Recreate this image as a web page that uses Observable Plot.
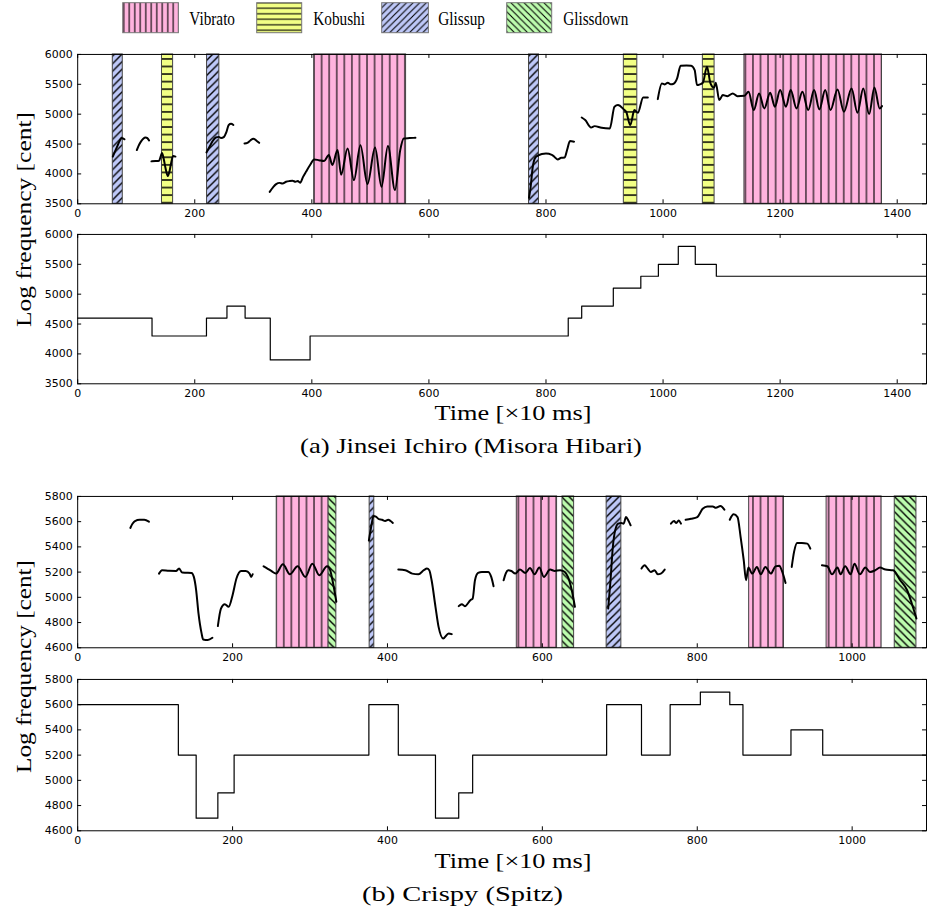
<!DOCTYPE html>
<html><head><meta charset="utf-8">
<script src="https://cdn.jsdelivr.net/npm/d3@7"></script>
<script src="https://cdn.jsdelivr.net/npm/@observablehq/plot@0.6"></script>
<style>
body{margin:0;background:#fff;}
#wrap{position:relative;width:928px;height:911px;overflow:hidden;background:#fff;}
</style></head><body><div id="wrap"></div>
<script>
// ---------- data ----------
const techniques = ["Vibrato", "Kobushi", "Glissup", "Glissdown"];
const techniqueColors = ["#ffb3de", "#f2ff85", "#bec8f8", "#bdfcae"];
const techniqueHatch = ["v", "h", "/", "\\"];

const jinseiXDomain = [0, 1450];
const jinseiYDomain = [3500, 6000];
const jinseiXTicks = [0, 200, 400, 600, 800, 1000, 1200, 1400];
const jinseiYTicks = [3500, 4000, 4500, 5000, 5500, 6000];

const crispyXDomain = [0, 1096];
const crispyYDomain = [4600, 5800];
const crispyXTicks = [0, 200, 400, 600, 800, 1000];
const crispyYTicks = [4600, 4800, 5000, 5200, 5400, 5600, 5800];

const jinseiRegions = [["Glissup",60,77],["Kobushi",144,163],["Glissup",221,242],["Vibrato",404,561],
  ["Glissup",771,788],["Kobushi",933,956],["Kobushi",1068,1088],["Vibrato",1139,1374]];

const jinseiF0 = [
  [[60,4290],[64,4380],[68,4470],[72,4560],[75,4600],[78,4590],[80,4580]],
  [[101,4400],[104,4470],[108,4540],[112,4590],[116,4610],[119,4600],[122,4560]],
  [[126,4210],[133,4215],[139,4220],[142,4300],[144,4350],[147,4250],[150,4100],[154,3965],[157,4050],[160,4200],[163,4300],[167,4290]],
  [[220,4360],[225,4450],[230,4540],[236,4610],[241,4620],[245,4600],[250,4620],[254,4700],[258,4820],[262,4840],[266,4820]],
  [[285,4510],[290,4520],[295,4560],[300,4590],[305,4560],[310,4520]],
  [[328,3700],[334,3780],[339,3830],[345,3850],[350,3840],[356,3868],[362,3880],[367,3885],[372,3870],[376,3880],[380,3852],[385,3950],[390,4036],[397,4150],[404,4242],
   [412,4230],[421,4215],[429,4315],[435,4150],[444,4400],[450,3985],[461,4426],[472,3896],[483,4482],[495,3830],[508,4443],[519,3785],[530,4466],[542,3729],[551,4398],[557,4594],[567,4600],[577,4605]],
  [[771,3600],[774,3800],[777,4090],[782,4276],[787,4310],[793,4335],[800,4340],[810,4320],[815,4280],[820,4240],[826,4270],[832,4275],[836,4400],[841,4550],[848,4540]],
  [[861,4945],[867,4901],[877,4778],[883,4800],[895,4772],[909,4761],[917,5124],[923,5152],[933,5079],[937,5040],[944,4817],[951,5068],[957,5024],[966,5280],[974,5280]],
  [[991,5252],[998,5514],[1003,5498],[1008,5526],[1013,5500],[1018,5510],[1024,5600],[1030,5810],[1040,5815],[1048,5810],[1054,5738],[1058,5487],[1063,5500],[1068,5526],[1075,5794],[1081,5514],[1087,5442],[1090,5526],[1096,5236],[1102,5319],[1110,5302],[1119,5347],[1127,5302],[1139,5308],
   [1146,5375],[1155,5068],[1164,5347],[1173,5096],[1183,5358],[1191,5124],[1200,5403],[1210,5124],[1218,5403],[1228,5096],[1238,5375],[1248,5068],[1258,5403],[1267,5079],[1277,5403],[1286,5068],[1298,5414],[1309,5040],[1322,5431],[1332,5024],[1342,5431],[1352,5001],[1361,5448],[1370,5096],[1374,5135]]
];

const jinseiNotes = [[0,4600],[127,4300],[220,4600],[255,4800],[286,4600],[329,3900],[397,4300],[838,4600],[861,4800],[915,5100],[962,5300],[992,5500],[1026,5800],[1055,5500],[1091,5300]];

const crispyRegions = [["Vibrato",257,324],["Glissdown",324,334],["Glissup",377,383],["Vibrato",567,619],["Glissdown",626,641],
  ["Glissup",683,702],["Vibrato",867,912],["Vibrato",967,1038],["Glissdown",1055,1083]];

const crispyF0 = [
  [[68,5550],[71,5585],[74,5605],[80,5615],[86,5615],[92,5600]],
  [[105,5188],[109,5215],[118,5210],[127,5209],[131,5228],[135,5196],[141,5195],[147,5193],[150,5162],[153,5056],[156,4872],[160,4714],[162,4666],[168,4661],[174,4679]],
  [[181,4772],[185,4911],[190,4946],[195,4925],[200,5017],[205,5149],[211,5209],[217,5209],[222,5188],[224,5162],[226,5183]],
  [[240,5246],[245,5228],[250,5209],[256,5188],[265,5262],[274,5183],[284,5246],[294,5162],[303,5267],[312,5175],[322,5246],[326,5215],[329,5135],[334,4965]],
  [[376,5450],[379,5560],[382,5645],[385,5640],[389,5620],[393,5615],[397,5605],[401,5615],[404,5605],[407,5590]],
  [[414,5220],[423,5215],[432,5188],[440,5183],[447,5215],[451,5228],[454,5215],[457,5135],[462,4925],[466,4766],[472,4674],[479,4714],[483,4708]],
  [[492,4930],[496,4946],[500,4930],[507,4977],[510,4990],[513,5135],[517,5193],[522,5201],[530,5201],[534,5162],[537,5088]],
  [[550,5135],[553,5193],[556,5215],[560,5209],[565,5188],[571,5220],[578,5193],[584,5233],[590,5183],[596,5236],[602,5162],[610,5220],[616,5209],[623,5215],[629,5201],[633,5162],[638,5056],[642,4925]],
  [[685,4911],[688,5135],[691,5399],[694,5531],[698,5584],[702,5589],[705,5584],[708,5636],[711,5610],[714,5571]],
  [[728,5228],[732,5254],[736,5228],[740,5201],[745,5215],[749,5183],[753,5188],[758,5220]],
  [[766,5584],[770,5605],[773,5589],[776,5610],[779,5584]],
  [[785,5615],[792,5623],[800,5636],[807,5702],[813,5721],[820,5721],[824,5710],[830,5724],[835,5695]],
  [[842,5615],[847,5658],[852,5636],[856,5478],[860,5294],[863,5135],[866,5236],[871,5188],[877,5240],[882,5183],[888,5240],[895,5188],[901,5245],[906,5250],[909,5215],[914,5114]],
  [[922,5241],[925,5360],[929,5431],[935,5431],[942,5426],[946,5386]],
  [[961,5254],[968,5246],[974,5183],[981,5236],[985,5183],[991,5246],[998,5183],[1003,5267],[1010,5183],[1017,5236],[1023,5201],[1030,5215],[1036,5236],[1043,5220],[1053,5215],[1062,5135],[1071,5056],[1077,4951],[1083,4832]]
];

const crispyNotes = [[0,5600],[130,5200],[153,4700],[181,4900],[202,5200],[376,5600],[414,5200],[462,4700],[492,4900],[510,5200],[683,5600],[728,5200],[765,5600],[804,5700],[842,5600],[859,5200],[921,5400],[962,5200]];

const xLabel = "Time [×10 ms]";
const yLabel = "Log frequency [cent]";
const captions = ["(a) Jinsei Ichiro (Misora Hibari)", "(b) Crispy (Spitz)"];

// ---------- overlay, patterns, legend ----------
const wrap = document.getElementById("wrap");
const overlay = d3.select(wrap).append("svg")
  .attr("width", 928).attr("height", 911)
  .style("position", "absolute").style("left", "0px").style("top", "0px").style("z-index", 5)
  .style("pointer-events", "none");
const defs = overlay.append("defs");

function addPattern(id, size, color, kind, lw) {
  const s = size;
  const p = defs.append("pattern").attr("id", id).attr("patternUnits", "userSpaceOnUse")
    .attr("width", s).attr("height", s);
  p.append("rect").attr("width", s).attr("height", s).attr("fill", color);
  let d;
  if (kind === "v") d = `M${s/2},0V${s}`;
  else if (kind === "h") d = `M0,${s/2}H${s}`;
  else if (kind === "/") d = `M${-s/2},${s/2}L${s/2},${-s/2}M0,${s}L${s},0M${s/2},${1.5*s}L${1.5*s},${s/2}`;
  else d = `M${-s/2},${s/2}L${s/2},${1.5*s}M0,0L${s},${s}M${s/2},${-s/2}L${1.5*s},${s/2}`;
  p.append("path").attr("d", d).attr("stroke", "black").attr("stroke-width", lw).attr("fill", "none");
}
techniques.forEach((t, i) => {
  addPattern("p-" + t, 7.6, techniqueColors[i], techniqueHatch[i], i < 2 ? (i === 0 ? 1.1 : 1.5) : 1.4);
  addPattern("l-" + t, i < 2 ? 5.5 : 6.6, techniqueColors[i], techniqueHatch[i], 1.1);
});

const legendSwatch = [[122.7, 55.7], [256.7, 45], [381.7, 46.7], [506.7, 45]];
const legendText = [[189.3, 45.7], [313.3, 51.7], [438.3, 46.7], [563.3, 65]];
techniques.forEach((t, i) => {
  overlay.append("rect").attr("x", legendSwatch[i][0]).attr("y", 2.7)
    .attr("width", legendSwatch[i][1]).attr("height", 30)
    .attr("fill", `url(#l-${t})`).attr("stroke", "#777").attr("stroke-width", 1);
  overlay.append("text").attr("x", legendText[i][0]).attr("y", 25)
    .attr("textLength", legendText[i][1]).attr("lengthAdjust", "spacingAndGlyphs")
    .attr("font-family", "'Liberation Serif', 'Times New Roman', serif").attr("font-size", 18)
    .text(t);
});

function bigText(txt, x, y, len, rotate) {
  const el = overlay.append("text")
    .attr("font-family", "'Liberation Serif', 'Times New Roman', serif").attr("font-size", 22)
    .attr("text-anchor", "middle").attr("textLength", len).attr("lengthAdjust", "spacingAndGlyphs")
    .text(txt);
  if (rotate) el.attr("transform", `translate(${x},${y}) rotate(-90)`);
  else el.attr("x", x).attr("y", y);
}
bigText(xLabel, 513, 420, 157);
bigText(xLabel, 513, 868, 157);
bigText(captions[0], 471, 453, 342);
bigText(captions[1], 462.5, 901, 201);
bigText(yLabel, 31, 219.5, 215, true);
bigText(yLabel, 31, 666.5, 213, true);

// ---------- panels ----------
function flatten(segs) {
  return segs.flatMap((seg, i) => seg.map(([t, v]) => ({seg: i, t, v})));
}
function stepData(notes, end) {
  const rows = notes.map(([t, v]) => ({t, v}));
  rows.push({t: end, v: notes[notes.length - 1][1]});
  return rows;
}

function panel({top, height, mt, mb, xDomain, yDomain, xTicks, yTicks, marks}) {
  const W = 932, ml = 77.5, mr = 2;
  const plotW = W - ml - mr, plotH = height - mt - mb;
  const chart = Plot.plot({
    width: W, height, marginLeft: ml, marginRight: mr, marginTop: mt, marginBottom: mb,
    x: {domain: xDomain}, y: {domain: yDomain},
    style: {fontFamily: "'DejaVu Sans', sans-serif", fontSize: "11px", color: "black", background: "transparent"},
    marks: [
      ...marks,
      Plot.tickX(xTicks, {x: d => d, insetTop: plotH - 4, stroke: "black", strokeWidth: 1}),
      Plot.tickX(xTicks, {x: d => d, insetBottom: plotH - 4, stroke: "black", strokeWidth: 1}),
      Plot.tickY(yTicks, {y: d => d, insetRight: plotW - 4, stroke: "black", strokeWidth: 1}),
      Plot.tickY(yTicks, {y: d => d, insetLeft: plotW - 4, stroke: "black", strokeWidth: 1}),
      Plot.axisX({ticks: xTicks, tickSize: 0, tickPadding: 5, label: null, tickFormat: d => String(d)}),
      Plot.axisY({ticks: yTicks, tickSize: 0, tickPadding: 5, label: null, tickFormat: d => String(d)}),
      Plot.frame({stroke: "black", strokeWidth: 1})
    ]
  });
  chart.style.position = "absolute";
  chart.style.left = "0px";
  chart.style.top = top + "px";
  wrap.appendChild(chart);
}

function regionMarks(regions, yDomain) {
  return techniques.map(t => Plot.rect(regions.filter(r => r[0] === t), {
    x1: d => d[1], x2: d => d[2], y1: () => yDomain[0], y2: () => yDomain[1],
    fill: `url(#p-${t})`, stroke: "#444", strokeWidth: 1
  }));
}

panel({top: 40, height: 180, mt: 14, mb: 16, xDomain: jinseiXDomain, yDomain: jinseiYDomain,
  xTicks: jinseiXTicks, yTicks: jinseiYTicks,
  marks: [
    ...regionMarks(jinseiRegions, jinseiYDomain),
    Plot.line(flatten(jinseiF0), {x: "t", y: "v", z: "seg", curve: "monotone-x", stroke: "black", strokeWidth: 2})
  ]});

panel({top: 220, height: 180, mt: 14, mb: 16, xDomain: jinseiXDomain, yDomain: jinseiYDomain,
  xTicks: jinseiXTicks, yTicks: jinseiYTicks,
  marks: [
    Plot.line(stepData(jinseiNotes, jinseiXDomain[1]), {x: "t", y: "v", curve: "step-after", stroke: "black", strokeWidth: 1.2})
  ]});

panel({top: 480, height: 185, mt: 16, mb: 17, xDomain: crispyXDomain, yDomain: crispyYDomain,
  xTicks: crispyXTicks, yTicks: crispyYTicks,
  marks: [
    ...regionMarks(crispyRegions, crispyYDomain),
    Plot.line(flatten(crispyF0), {x: "t", y: "v", z: "seg", curve: "monotone-x", stroke: "black", strokeWidth: 2})
  ]});

panel({top: 665, height: 185, mt: 14, mb: 19, xDomain: crispyXDomain, yDomain: crispyYDomain,
  xTicks: crispyXTicks, yTicks: crispyYTicks,
  marks: [
    Plot.line(stepData(crispyNotes, crispyXDomain[1]), {x: "t", y: "v", curve: "step-after", stroke: "black", strokeWidth: 1.2})
  ]});
</script></body></html>
